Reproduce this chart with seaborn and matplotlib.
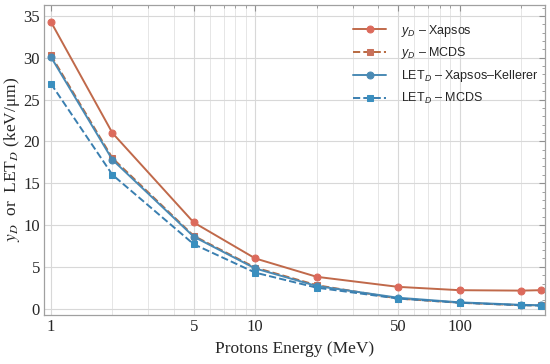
import numpy as np
import pandas as pd
import matplotlib.pyplot as plt
import seaborn as sns
from matplotlib.ticker import FixedLocator, NullFormatter, MultipleLocator

energy = [1, 2, 5, 10, 20, 50, 100, 200, 250]
yd_xapsos = [34.3, 21.0, 10.3, 6.0, 3.8, 2.6, 2.2, 2.15, 2.2]
yd_mcds = [30.3, 18.0, 8.7, 4.9, 2.8, 1.2, 0.7, 0.4, 0.4]
let_xk = [30.1, 17.8, 8.6, 4.8, 2.7, 1.3, 0.75, 0.45, 0.4]
let_mcds = [26.9, 16.0, 7.7, 4.3, 2.5, 1.2, 0.7, 0.4, 0.35]

labels = [r"$y_D$ – Xapsos", r"$y_D$ – MCDS",
          r"LET$_D$ – Xapsos–Kellerer", r"LET$_D$ – MCDS"]

sns.set_style("white")
plt.rcParams["mathtext.fontset"] = "custom"
plt.rcParams["mathtext.it"] = "Liberation Sans:italic"
plt.rcParams["mathtext.rm"] = "Liberation Sans"

fig = plt.figure(figsize=(5.5, 3.64), dpi=100)
ax = fig.add_axes([0.08, 0.135, 0.911, 0.851])

series = [
    (yd_xapsos, "#c0694a", "#dc6a5c", "-", "o"),
    (yd_mcds, "#b8693f", "#c8705a", "--", "s"),
    (let_xk, "#4a8ab4", "#4a8ab4", "-", "o"),
    (let_mcds, "#3a7fb0", "#3a8fbf", "--", "s"),
]
for (vals, lc, mc, ls, mk), lab in zip(series, labels):
    df = pd.DataFrame({"E": energy, "v": vals})
    sns.lineplot(data=df, x="E", y="v", ax=ax, color=lc, linestyle=ls,
                 marker=mk, markersize=5, markerfacecolor=mc,
                 markeredgecolor=mc, linewidth=1.4, label=lab)

ax.set_xscale("log")
ax.set_xlim(0.925, 262)
ax.set_ylim(-0.75, 36.3)

ax.xaxis.set_major_locator(FixedLocator([1, 5, 10, 50, 100]))
ax.set_xticklabels(["1", "5", "10", "50", "100"])
minor = [m * d for d in [1, 10, 100] for m in range(1, 10)] + [200]
ax.xaxis.set_minor_locator(FixedLocator(minor))
ax.xaxis.set_minor_formatter(NullFormatter())
ax.yaxis.set_major_locator(MultipleLocator(5))
ax.yaxis.set_minor_locator(MultipleLocator(1))

ax.grid(True, which="major", color="#d8d8d8", linewidth=0.8)
ax.grid(True, which="minor", axis="x", color="#e6e6e6", linewidth=0.7)
ax.set_axisbelow(True)

for s in ax.spines.values():
    s.set_color("#a0a0a0")
    s.set_linewidth(0.9)
ax.tick_params(which="both", direction="in", color="#909090",
               top=True, right=True, labelsize=12, pad=3)
ax.tick_params(which="major", length=4)
ax.tick_params(which="minor", length=2)
for t in ax.get_xticklabels() + ax.get_yticklabels():
    t.set_family("Liberation Serif")

ax.set_xlabel("Protons Energy (MeV)", family="Liberation Serif", fontsize=12.5)
ax.set_ylabel(r"$y_D$  or  LET$_D$ (keV/μm)", family="Liberation Serif",
              fontsize=12.5, labelpad=1, math_fontfamily="stix")

leg = ax.legend(loc="upper left", bbox_to_anchor=(0.595, 0.98), frameon=False,
                prop={"family": "Liberation Sans", "size": 9},
                handlelength=2.6, handletextpad=1.2, labelspacing=0.55)

fig.savefig("out.png", dpi=100)
